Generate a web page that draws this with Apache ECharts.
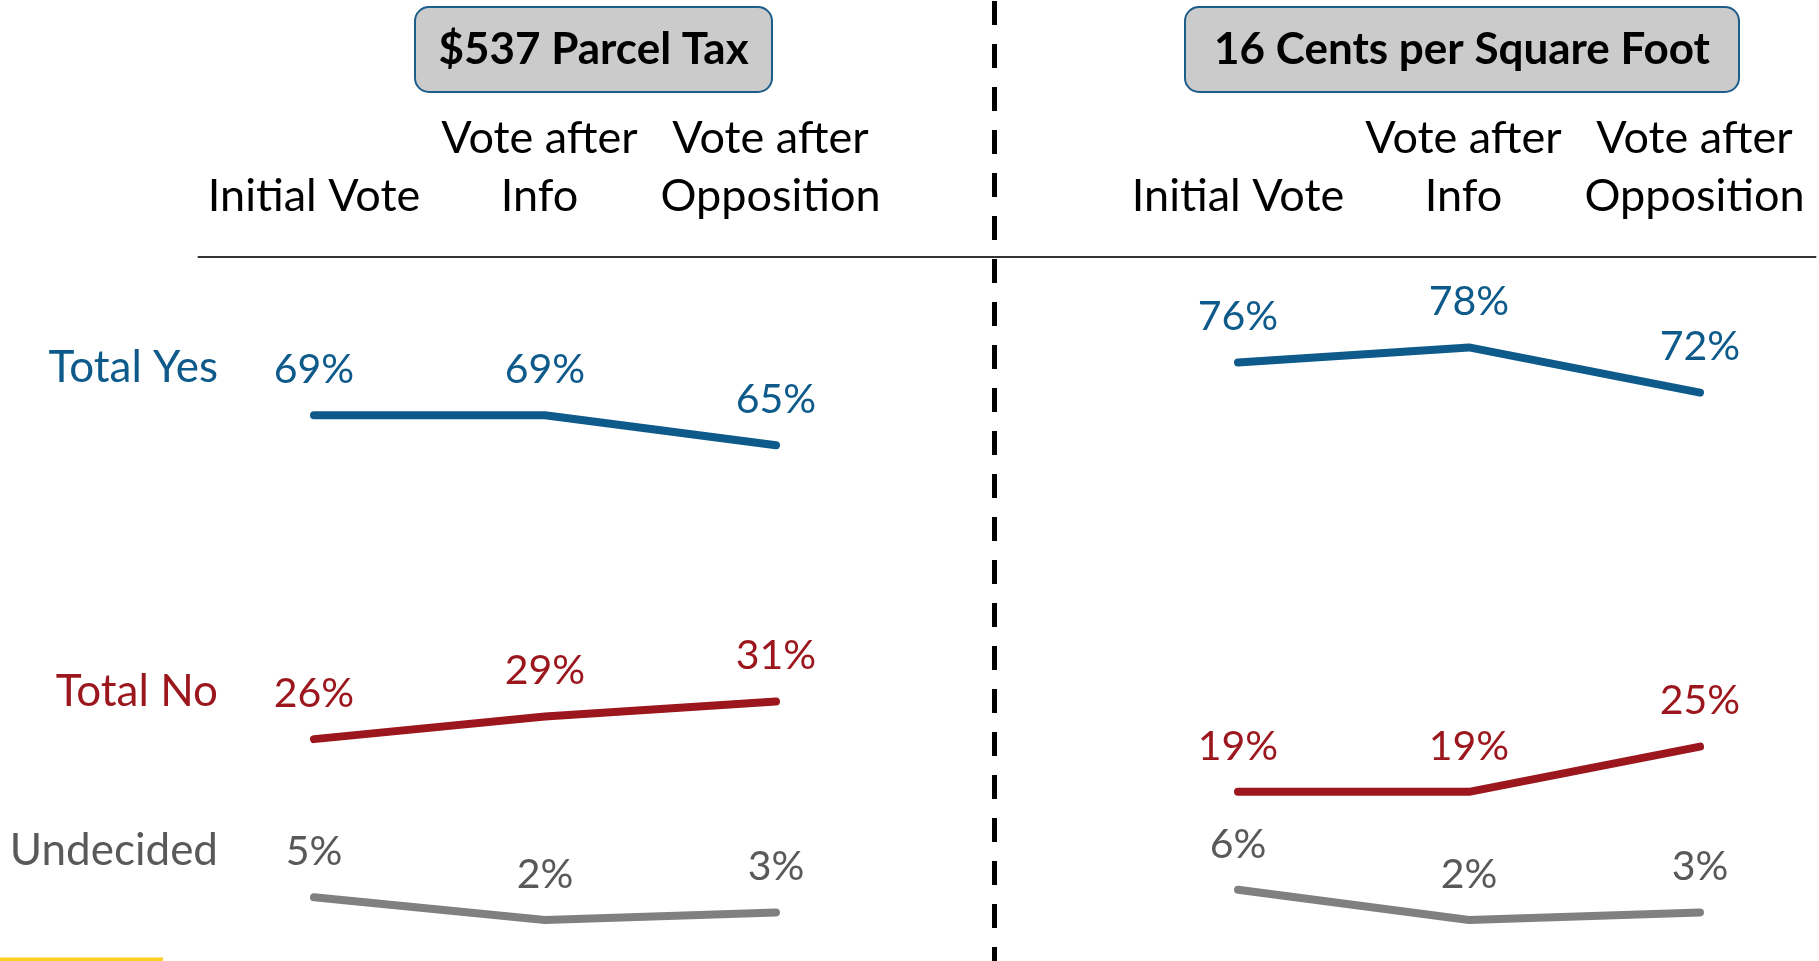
<!DOCTYPE html>
<html>
<head>
<meta charset="utf-8">
<title>Parcel tax vote</title>
<script src="https://cdn.jsdelivr.net/npm/echarts@6/dist/echarts.min.js"></script>
<style>
  html, body { margin: 0; padding: 0; background: #fff; }
  #chart { width: 1819px; height: 961px; }
</style>
</head>
<body>
<div id="chart"></div>
<script>
// 两个方案的投票数据（%）
const stages = ['Initial Vote', 'Vote after\nInfo', 'Vote after\nOpposition']
const parcelYes = [69, 69, 65]
const parcelNo = [26, 29, 31]
const parcelUndecided = [5, 2, 3]
const sqftYes = [76, 78, 72]
const sqftNo = [19, 19, 25]
const sqftUndecided = [6, 2, 3]
const panelTitles = ['$537 Parcel Tax', '16 Cents per Square Foot']
const rowNames = ['Total Yes', 'Total No', 'Undecided']

const FONT = 'Lato, "Open Sans", sans-serif'
const BLUE = '#0d5a8b'
const RED = '#9b171d'
const GREY_LINE = '#808080'
const GREY_TEXT = '#595959'

// 中间空一格，左右两个面板共用一条类目轴
const categories = [...stages, '', ...stages]
const join = (a, b) => [...a, null, ...b]

const chart = echarts.init(document.getElementById('chart'))

const makeSeries = (name, data, lineColor, textColor) => ({
  name,
  type: 'line',
  data,
  symbol: 'circle',
  symbolSize: 0,
  showSymbol: true,
  connectNulls: false,
  itemStyle: { color: lineColor },
  lineStyle: { width: 8, color: lineColor, cap: 'round', join: 'round' },
  label: {
    show: true,
    position: 'top',
    distance: 25,
    formatter: (p) => p.value + '%',
    color: textColor,
    fontSize: 41,
    fontFamily: FONT
  },
  emphasis: { disabled: true }
})

const series = [
  makeSeries(rowNames[0], join(parcelYes, sqftYes), BLUE, BLUE),
  makeSeries(rowNames[1], join(parcelNo, sqftNo), RED, RED),
  makeSeries(rowNames[2], join(parcelUndecided, sqftUndecided), GREY_LINE, GREY_TEXT)
]

const labelStyle = { color: '#000', fontSize: 45, lineHeight: 58, fontFamily: FONT }

const option = {
  animation: false,
  grid: { left: 198.5, right: 3.5, top: 257, bottom: 26 },
  xAxis: {
    type: 'category',
    position: 'top',
    data: categories,
    boundaryGap: true,
    axisTick: { show: false },
    axisLine: { onZero: false, lineStyle: { color: '#333', width: 2 } },
    axisLabel: {
      interval: 0,
      margin: 32,
      ...labelStyle,
      // 两行的标签在原图中略微偏左
      formatter: (v) => v.includes('\n')
        ? v.split('\n').map((l) => `{s|${l}}`).join('\n')
        : v,
      rich: { s: { ...labelStyle, padding: [0, 11, 0, 0] } }
    }
  },
  yAxis: { type: 'value', min: 0, max: 90, show: false },
  series
}

chart.setOption(option)

// 标题框、分隔虚线、左侧行名
const graphics = []
const boxes = [
  { x: 415, w: 357, text: panelTitles[0] },
  { x: 1185, w: 554, text: panelTitles[1] }
]
boxes.forEach((b) => {
  graphics.push({
    type: 'rect',
    shape: { x: b.x, y: 7, width: b.w, height: 85, r: 14 },
    style: { fill: '#cbcbcb', stroke: '#1d5d89', lineWidth: 2 },
    silent: true
  })
  graphics.push({
    type: 'text',
    x: b.x + b.w / 2,
    y: 50,
    style: {
      text: b.text,
      fontSize: 44,
      fontWeight: 'bold',
      fontFamily: FONT,
      fill: '#000',
      align: 'center',
      verticalAlign: 'middle'
    },
    silent: true
  })
})
graphics.push({
  type: 'line',
  shape: { x1: 994.5, y1: 1, x2: 994.5, y2: 961 },
  style: { stroke: '#000', lineWidth: 5, lineDash: [24, 19] },
  silent: true
})
const rowColors = [BLUE, RED, GREY_TEXT]
series.forEach((s, i) => {
  const p = chart.convertToPixel({ gridIndex: 0 }, [0, s.data[0]])
  graphics.push({
    type: 'text',
    x: 218,
    y: p[1] - 47,
    style: {
      text: rowNames[i],
      fontSize: 44,
      fontFamily: FONT,
      fill: rowColors[i],
      align: 'right',
      verticalAlign: 'middle'
    },
    silent: true
  })
})
graphics.push({
  type: 'rect',
  shape: { x: 0, y: 957.5, width: 163, height: 4 },
  style: { fill: '#fcd01e' },
  silent: true
})
chart.setOption({ graphic: graphics })

window.addEventListener('resize', () => chart.resize())
</script>
</body>
</html>
